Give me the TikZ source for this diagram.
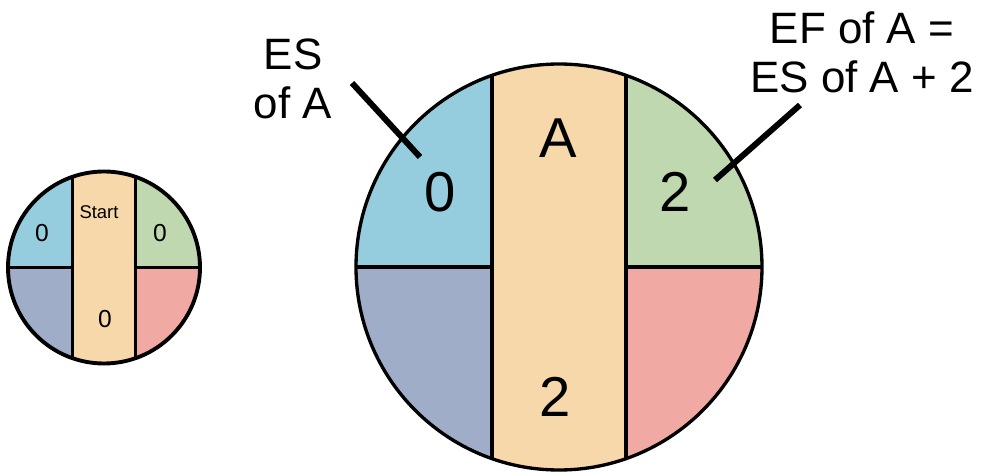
\documentclass[tikz,border=0pt]{standalone}
\usepackage{fontspec}
\setmainfont{Liberation Sans}

\definecolor{esblue}{RGB}{150,205,222}
\definecolor{efgreen}{RGB}{191,216,175}
\definecolor{actpeach}{RGB}{247,216,170}
\definecolor{lsslate}{RGB}{160,173,200}
\definecolor{lfpink}{RGB}{241,170,163}

% #1,#2 centre, #3 radius, #4 half width of the middle band, #5 line width
\newcommand\eventcircle[5]{%
  \begin{scope}
    \clip (#1,#2) circle[radius=#3];
    \fill[esblue]   (#1-#3,#2) rectangle (#1-#4,#2-#3);
    \fill[lsslate]  (#1-#3,#2) rectangle (#1-#4,#2+#3);
    \fill[actpeach] (#1-#4,#2-#3) rectangle (#1+#4,#2+#3);
    \fill[efgreen]  (#1+#4,#2) rectangle (#1+#3,#2-#3);
    \fill[lfpink]   (#1+#4,#2) rectangle (#1+#3,#2+#3);
    \draw[line width=#5] (#1-#4,#2-#3) -- (#1-#4,#2+#3)
                         (#1+#4,#2-#3) -- (#1+#4,#2+#3)
                         (#1-#3,#2) -- (#1-#4,#2)
                         (#1+#4,#2) -- (#1+#3,#2);
  \end{scope}
  \draw[line width=#5] (#1,#2) circle[radius=#3];
}

\begin{document}
\begin{tikzpicture}[
  x=0.02cm, y=-0.02cm,
  every node/.style={inner sep=0pt, align=center},
  bignum/.style={font=\fontsize{32}{36}\selectfont},
  smallnum/.style={font=\fontsize{14}{16}\selectfont},
  note/.style={font=\fontsize{25}{28}\selectfont},
  leader/.style={line width=3.4pt}
]
  \useasboundingbox (0,0) rectangle (988,473);

  % Start event
  \eventcircle{104}{267.5}{96}{31.5}{2.2pt}
  \node[font=\fontsize{10.5}{12}\selectfont] (start) at (99,212) {Start};
  \node[smallnum] (startES) at (42,233) {0};
  \node[smallnum] (startEF) at (160,233) {0};
  \node[smallnum] (startDur) at (105,319) {0};

  % Activity A
  \eventcircle{559}{267}{203}{67}{1.9pt}
  \node[bignum] (actA) at (558,138) {A};
  \node[bignum] (aES) at (440,192) {0};
  \node[bignum] (aEF) at (675,192) {2};
  \node[bignum] (aDur) at (555,397) {2};

  % Labels
  \node[note] (esNote) at (293,79) {ES\\of A};
  \node[note] (efNote) at (862,52) {EF of A =\\ES of A + 2};
  \coordinate (esFrom) at (352,83);
  \coordinate (esTo) at (420,157);
  \coordinate (efFrom) at (800,105);
  \coordinate (efTo) at (715,180);
  \draw[leader] (esFrom) -- (esTo);
  \draw[leader] (efFrom) -- (efTo);
\end{tikzpicture}
\end{document}
